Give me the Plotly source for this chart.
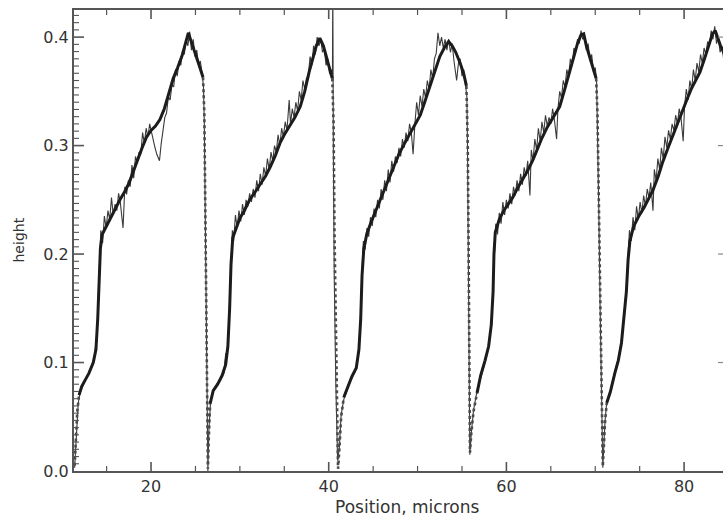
import plotly.graph_objects as go

# Surface profile across five ridges: (position in microns, height)
# Smoothed profile: each ridge is a gentle ramp followed by a steep fall
smooth_fall0 = [(11.40, 0.005), (11.55, 0.030), (11.70, 0.055), (11.90, 0.070)]
smooth_ramp1 = [
    (11.90, 0.070), (12.20, 0.078),
    (12.60, 0.084), (13.00, 0.090), (13.50, 0.100), (13.80, 0.112), (14.00, 0.140),
    (14.15, 0.180), (14.30, 0.205), (14.50, 0.218), (15.00, 0.226), (15.50, 0.234),
    (16.00, 0.243), (16.50, 0.250), (17.00, 0.257), (17.50, 0.265), (18.00, 0.276),
    (18.50, 0.288), (19.00, 0.298), (19.50, 0.308), (20.00, 0.314), (20.50, 0.318),
    (21.00, 0.324), (21.50, 0.334), (22.00, 0.348), (22.50, 0.362), (23.00, 0.372),
    (23.50, 0.383), (24.00, 0.398), (24.20, 0.404), (24.60, 0.394), (25.00, 0.385),
    (25.50, 0.372), (25.85, 0.363),
]
smooth_fall1 = [
    (25.85, 0.363), (26.00, 0.330), (26.10, 0.250), (26.20, 0.150),
    (26.30, 0.060), (26.40, 0.002), (26.50, 0.030), (26.65, 0.062),
]
smooth_ramp2 = [
    (26.65, 0.062), (27.00, 0.074), (27.50, 0.080), (28.00, 0.088),
    (28.40, 0.098), (28.65, 0.115), (28.85, 0.150), (29.00, 0.190), (29.20, 0.215),
    (29.60, 0.225), (30.00, 0.233), (30.50, 0.240), (31.10, 0.250), (31.70, 0.257),
    (32.30, 0.264), (32.90, 0.272), (33.40, 0.280), (34.00, 0.291), (34.50, 0.302),
    (35.00, 0.310), (35.60, 0.318), (36.20, 0.326), (36.80, 0.336), (37.30, 0.350),
    (37.80, 0.368), (38.20, 0.380), (38.60, 0.392), (39.00, 0.399), (39.40, 0.392),
    (39.80, 0.380), (40.10, 0.372), (40.40, 0.362),
]
smooth_fall2 = [
    (40.40, 0.362), (40.55, 0.320), (40.65, 0.220),
    (40.80, 0.120), (40.95, 0.040), (41.05, 0.002),
    (41.20, 0.020), (41.40, 0.050), (41.70, 0.068),
]
smooth_ramp3 = [
    (41.70, 0.068), (42.10, 0.076), (42.60, 0.087),
    (43.10, 0.095), (43.40, 0.112), (43.60, 0.140), (43.75, 0.180), (43.95, 0.205),
    (44.30, 0.219), (44.80, 0.230), (45.30, 0.240), (45.80, 0.250), (46.30, 0.260),
    (46.90, 0.271), (47.40, 0.282), (47.90, 0.292), (48.40, 0.300), (48.80, 0.306),
    (49.30, 0.313), (49.80, 0.320), (50.30, 0.328), (50.80, 0.340), (51.30, 0.352),
    (51.70, 0.362), (52.10, 0.372), (52.50, 0.382), (53.00, 0.390), (53.50, 0.396),
    (53.90, 0.392), (54.30, 0.386), (54.80, 0.376), (55.20, 0.366), (55.50, 0.355),
]
smooth_fall3 = [
    (55.50, 0.355), (55.65, 0.300), (55.75, 0.200), (55.82, 0.100), (55.90, 0.017),
    (56.05, 0.035), (56.30, 0.055), (56.70, 0.072),
]
smooth_ramp4 = [
    (56.70, 0.072), (57.10, 0.088), (57.60, 0.102),
    (58.00, 0.115), (58.30, 0.135), (58.50, 0.165), (58.60, 0.200), (58.75, 0.220),
    (59.20, 0.232), (59.70, 0.240), (60.20, 0.246), (60.70, 0.252), (61.20, 0.260),
    (61.80, 0.268), (62.40, 0.277), (63.00, 0.287), (63.50, 0.297), (64.00, 0.307),
    (64.60, 0.317), (65.10, 0.324), (65.60, 0.330), (66.00, 0.336), (66.50, 0.350),
    (66.90, 0.362), (67.20, 0.372), (67.60, 0.384), (68.00, 0.394), (68.40, 0.402),
    (68.70, 0.403), (69.00, 0.392), (69.40, 0.380), (69.80, 0.370), (70.10, 0.362),
]
smooth_fall4 = [
    (70.10, 0.362), (70.25, 0.330), (70.40, 0.250), (70.55, 0.160), (70.70, 0.070),
    (70.85, 0.004), (70.95, 0.020), (71.10, 0.045), (71.30, 0.063),
]
smooth_ramp5 = [
    (71.30, 0.063), (71.70, 0.073), (72.20, 0.090),
    (72.60, 0.102), (72.95, 0.118), (73.20, 0.140), (73.50, 0.165), (73.70, 0.195),
    (73.90, 0.212), (74.30, 0.225), (74.90, 0.235), (75.50, 0.243), (76.00, 0.251),
    (76.50, 0.259), (77.10, 0.272), (77.60, 0.285), (78.20, 0.298), (78.80, 0.311),
    (79.30, 0.322), (79.80, 0.332), (80.30, 0.342), (80.80, 0.352), (81.30, 0.360),
    (81.80, 0.368), (82.30, 0.380), (82.80, 0.392), (83.20, 0.403), (83.50, 0.406),
    (83.80, 0.398), (84.10, 0.392), (84.50, 0.385),
]

# Raw measured profile, one list per ridge
raw_ridge1 = [
    (11.40, 0.003), (11.60, 0.035), (11.80, 0.062), (12.00, 0.072), (12.40, 0.080),
    (12.80, 0.087), (13.20, 0.094), (13.60, 0.104), (13.90, 0.125), (14.05, 0.160),
    (14.20, 0.200), (14.35, 0.222), (14.55, 0.210), (14.75, 0.235), (14.95, 0.224),
    (15.15, 0.240), (15.35, 0.232), (15.55, 0.252), (15.75, 0.236), (15.95, 0.246),
    (16.15, 0.240), (16.35, 0.256), (16.55, 0.247), (16.85, 0.224), (17.05, 0.262),
    (17.25, 0.255), (17.45, 0.268), (17.65, 0.262), (17.85, 0.282), (18.05, 0.270),
    (18.25, 0.290), (18.45, 0.284), (18.65, 0.294), (18.85, 0.292), (19.05, 0.312),
    (19.25, 0.302), (19.45, 0.316), (19.65, 0.308), (19.85, 0.320), (20.05, 0.312),
    (20.25, 0.304), (20.45, 0.298), (20.65, 0.292), (20.95, 0.286), (21.15, 0.302),
    (21.35, 0.314), (21.55, 0.326), (21.75, 0.330), (21.95, 0.345), (22.15, 0.342),
    (22.35, 0.356), (22.55, 0.354), (22.75, 0.370), (22.95, 0.364), (23.15, 0.378),
    (23.35, 0.374), (23.55, 0.388), (23.75, 0.384), (23.95, 0.398), (24.15, 0.392),
    (24.35, 0.405), (24.55, 0.388), (24.75, 0.398), (24.95, 0.382), (25.15, 0.388),
    (25.35, 0.374), (25.55, 0.378), (25.75, 0.366), (25.90, 0.355), (26.00, 0.320),
    (26.10, 0.240), (26.20, 0.140), (26.30, 0.050), (26.40, 0.000),
]
raw_ridge2 = [
    (26.50, 0.035), (26.70, 0.064), (27.10, 0.076), (27.50, 0.081), (27.90, 0.086),
    (28.20, 0.090), (28.40, 0.108), (28.60, 0.110), (28.80, 0.145), (29.00, 0.192),
    (29.15, 0.222), (29.30, 0.212), (29.50, 0.236), (29.70, 0.224), (29.90, 0.240),
    (30.10, 0.230), (30.30, 0.246), (30.50, 0.236), (30.70, 0.250), (30.90, 0.244),
    (31.10, 0.256), (31.30, 0.248), (31.50, 0.260), (31.70, 0.252), (31.90, 0.268),
    (32.10, 0.258), (32.30, 0.274), (32.50, 0.264), (32.70, 0.280), (32.90, 0.272),
    (33.10, 0.288), (33.30, 0.278), (33.50, 0.294), (33.70, 0.286), (33.90, 0.300),
    (34.10, 0.294), (34.30, 0.310), (34.50, 0.300), (34.70, 0.316), (34.90, 0.308),
    (35.10, 0.322), (35.30, 0.314), (35.55, 0.342), (35.70, 0.320), (35.90, 0.334),
    (36.10, 0.326), (36.30, 0.340), (36.50, 0.332), (36.70, 0.350), (36.90, 0.342),
    (37.10, 0.360), (37.30, 0.352), (37.50, 0.362), (37.70, 0.364), (37.90, 0.382),
    (38.10, 0.374), (38.30, 0.392), (38.50, 0.384), (38.70, 0.400), (38.90, 0.392),
    (39.10, 0.398), (39.30, 0.386), (39.50, 0.390), (39.70, 0.374), (39.90, 0.380),
    (40.10, 0.366), (40.30, 0.370), (40.42, 0.366), (40.46, 0.450), (40.52, 0.300),
    (40.62, 0.180), (40.80, 0.080), (41.00, 0.010),
]
raw_ridge3 = [
    (41.20, 0.022), (41.40, 0.052), (41.70, 0.066), (42.10, 0.075), (42.50, 0.084),
    (42.90, 0.090), (43.20, 0.100), (43.40, 0.115), (43.60, 0.145), (43.75, 0.185),
    (43.90, 0.212), (44.10, 0.204), (44.30, 0.224), (44.50, 0.216), (44.70, 0.234),
    (44.90, 0.226), (45.10, 0.242), (45.30, 0.234), (45.50, 0.250), (45.70, 0.242),
    (45.90, 0.260), (46.10, 0.250), (46.30, 0.268), (46.50, 0.258), (46.70, 0.278),
    (46.90, 0.266), (47.10, 0.286), (47.30, 0.276), (47.50, 0.290), (47.70, 0.284),
    (47.90, 0.298), (48.10, 0.290), (48.30, 0.306), (48.50, 0.298), (48.70, 0.312),
    (48.90, 0.304), (49.10, 0.320), (49.30, 0.312), (49.50, 0.292), (49.70, 0.320),
    (49.90, 0.340), (50.10, 0.328), (50.30, 0.346), (50.50, 0.336), (50.70, 0.352),
    (50.90, 0.344), (51.10, 0.360), (51.30, 0.352), (51.50, 0.370), (51.70, 0.362),
    (51.90, 0.380), (52.10, 0.385), (52.30, 0.404), (52.50, 0.392), (52.70, 0.400),
    (52.90, 0.390), (53.10, 0.398), (53.30, 0.388), (53.50, 0.398), (53.70, 0.386),
    (53.90, 0.394), (54.10, 0.378), (54.40, 0.360), (54.60, 0.376), (54.80, 0.380),
    (55.00, 0.364), (55.20, 0.370), (55.40, 0.356), (55.55, 0.345), (55.62, 0.300),
    (55.70, 0.200), (55.78, 0.100), (55.88, 0.015),
]
raw_ridge4 = [
    (56.05, 0.035), (56.30, 0.056), (56.70, 0.074), (57.10, 0.086), (57.60, 0.100),
    (58.00, 0.116), (58.30, 0.132), (58.50, 0.170), (58.65, 0.210), (58.80, 0.228),
    (59.00, 0.218), (59.20, 0.238), (59.40, 0.228), (59.60, 0.248), (59.80, 0.236),
    (60.00, 0.250), (60.20, 0.242), (60.40, 0.256), (60.60, 0.246), (60.80, 0.262),
    (61.00, 0.254), (61.20, 0.268), (61.40, 0.258), (61.60, 0.274), (61.80, 0.264),
    (62.00, 0.280), (62.20, 0.272), (62.40, 0.286), (62.65, 0.254), (62.80, 0.296),
    (63.00, 0.286), (63.20, 0.306), (63.40, 0.296), (63.60, 0.316), (63.80, 0.304),
    (64.00, 0.322), (64.20, 0.312), (64.40, 0.328), (64.60, 0.318), (64.80, 0.326),
    (65.00, 0.320), (65.20, 0.334), (65.40, 0.324), (65.65, 0.306), (65.80, 0.334),
    (66.00, 0.350), (66.20, 0.344), (66.40, 0.360), (66.60, 0.354), (66.80, 0.370),
    (67.00, 0.364), (67.20, 0.380), (67.40, 0.374), (67.60, 0.390), (67.80, 0.386),
    (68.00, 0.398), (68.20, 0.394), (68.40, 0.406), (68.60, 0.398), (68.80, 0.400),
    (69.00, 0.388), (69.20, 0.394), (69.40, 0.378), (69.60, 0.384), (69.80, 0.368),
    (70.00, 0.372), (70.15, 0.360), (70.25, 0.320), (70.40, 0.240), (70.55, 0.150),
    (70.70, 0.060), (70.85, 0.003),
]
raw_ridge5 = [
    (70.95, 0.020), (71.10, 0.046), (71.30, 0.064), (71.70, 0.074), (72.20, 0.092),
    (72.60, 0.104), (72.95, 0.120), (73.20, 0.142), (73.50, 0.168), (73.70, 0.200),
    (73.85, 0.222), (74.05, 0.212), (74.25, 0.234), (74.45, 0.222), (74.65, 0.244),
    (74.85, 0.232), (75.05, 0.248), (75.25, 0.238), (75.45, 0.254), (75.65, 0.244),
    (75.85, 0.260), (76.05, 0.252), (76.25, 0.266), (76.50, 0.240), (76.65, 0.278),
    (76.85, 0.268), (77.05, 0.288), (77.25, 0.278), (77.45, 0.298), (77.65, 0.288),
    (77.85, 0.308), (78.05, 0.298), (78.25, 0.314), (78.45, 0.306), (78.65, 0.320),
    (78.85, 0.314), (79.05, 0.328), (79.25, 0.320), (79.45, 0.334), (79.65, 0.326),
    (79.90, 0.304), (80.05, 0.336), (80.25, 0.352), (80.45, 0.342), (80.65, 0.360),
    (80.85, 0.352), (81.05, 0.370), (81.25, 0.360), (81.45, 0.376), (81.65, 0.368),
    (81.85, 0.384), (82.05, 0.376), (82.25, 0.390), (82.45, 0.384), (82.65, 0.396),
    (82.85, 0.392), (83.05, 0.406), (83.25, 0.398), (83.45, 0.410), (83.65, 0.394),
    (83.85, 0.400), (84.05, 0.386), (84.25, 0.392), (84.45, 0.380),
]

x_range = [11.33, 84.38]
y_range = [0.0, 0.425]
x_major = [20, 40, 60, 80]
x_minor = [15, 25, 30, 35, 45, 50, 55, 65, 70, 75]
y_major = [0.1, 0.2, 0.3, 0.4]
y_minor_step = 0.1 / 15

# plot-area size in pixels, used to express tick lengths
WIDTH, HEIGHT = 723, 524
MARGIN = dict(l=74, r=0, t=10, b=53)
PLOT_W = WIDTH - MARGIN["l"] - MARGIN["r"]
PLOT_H = HEIGHT - MARGIN["t"] - MARGIN["b"]


def join(*segments):
    """Concatenate point lists, leaving a gap between separate segments."""
    xs, ys = [], []
    for seg in segments:
        if xs:
            xs.append(None)
            ys.append(None)
        for px, py in seg:
            xs.append(px)
            ys.append(py)
    return xs, ys


def chain(*segments):
    """Concatenate point lists into one continuous line."""
    xs, ys = [], []
    for seg in segments:
        for px, py in seg:
            xs.append(px)
            ys.append(py)
    return xs, ys


raw_x, raw_y = chain(raw_ridge1, raw_ridge2, raw_ridge3, raw_ridge4, raw_ridge5)
ramp_x, ramp_y = join(smooth_ramp1, smooth_ramp2, smooth_ramp3,
                      smooth_ramp4, smooth_ramp5)
fall_x, fall_y = join(smooth_fall0, smooth_fall1, smooth_fall2,
                      smooth_fall3, smooth_fall4)

AXIS = "#555555"
TEXT = "#333333"
FONT = "DejaVu Sans"

fig = go.Figure()
fig.add_trace(go.Scatter(
    x=raw_x, y=raw_y, mode="lines",
    line=dict(color="#3a3a3a", width=1.1),
    hoverinfo="skip", showlegend=False,
))
fig.add_trace(go.Scatter(
    x=fall_x, y=fall_y, mode="lines",
    line=dict(color="#4a4a4a", width=2.6, dash="dot"),
    hoverinfo="skip", showlegend=False,
))
fig.add_trace(go.Scatter(
    x=ramp_x, y=ramp_y, mode="lines",
    line=dict(color="#1c1c1c", width=3),
    hoverinfo="skip", showlegend=False,
))


# Inward tick marks on all four sides, drawn as short lines on the axes
def x_tick(v, length, width, top):
    frac = length / PLOT_H
    y0, y1 = (1, 1 - frac) if top else (0, frac)
    return dict(type="line", xref="x", yref="y domain", x0=v, x1=v,
                y0=y0, y1=y1, layer="above",
                line=dict(color=AXIS, width=width))


def y_tick(v, length, width, right, color=AXIS):
    frac = length / PLOT_W
    x0, x1 = (1, 1 - frac) if right else (0, frac)
    return dict(type="line", xref="x domain", yref="y", x0=x0, x1=x1,
                y0=v, y1=v, layer="above",
                line=dict(color=color, width=width))


shapes = []
for top in (False, True):
    shapes += [x_tick(v, 9, 1.6, top) for v in x_major]
    shapes += [x_tick(v, 5, 1.2, top) for v in x_minor]
shapes += [y_tick(v, 10, 1.6, False) for v in y_major]
k = 1
while k * y_minor_step < y_range[1]:
    if k % 15:
        shapes.append(y_tick(k * y_minor_step, 5, 1.1, False))
    k += 1
shapes += [y_tick(v, 5, 1.2, True, "#8a8a8a") for v in y_major]

fig.update_layout(
    width=WIDTH, height=HEIGHT,
    margin=MARGIN,
    paper_bgcolor="white", plot_bgcolor="white",
    font=dict(family=FONT, size=16, color=TEXT),
    shapes=shapes,
    xaxis=dict(
        range=x_range, tickmode="array", tickvals=x_major,
        ticktext=[str(v) for v in x_major], ticks="",
        showline=True, linecolor=AXIS, linewidth=2, mirror=True,
        showgrid=False, zeroline=False,
        tickfont=dict(family=FONT, size=16, color=TEXT),
    ),
    yaxis=dict(
        range=y_range, tickmode="array", tickvals=[0.0] + y_major,
        ticktext=["0.0", "0.1", "0.2", "0.3", "0.4"], ticks="",
        showline=True, linecolor=AXIS, linewidth=2,
        showgrid=False, zeroline=False,
        ticksuffix="\u00a0\u00a0",
        tickfont=dict(family=FONT, size=16, color=TEXT),
    ),
    annotations=[
        dict(text="Position, microns", xref="paper", yref="paper",
             x=(407 - 74) / PLOT_W, y=-0.078, xanchor="center", yanchor="middle",
             showarrow=False, font=dict(family=FONT, size=17, color=TEXT)),
        dict(text="height", xref="paper", yref="paper",
             x=(18 - 74) / PLOT_W, y=0.5, xanchor="center", yanchor="middle",
             textangle=-90, showarrow=False,
             font=dict(family=FONT, size=14, color=TEXT)),
    ],
)

fig.write_html("out.html")
